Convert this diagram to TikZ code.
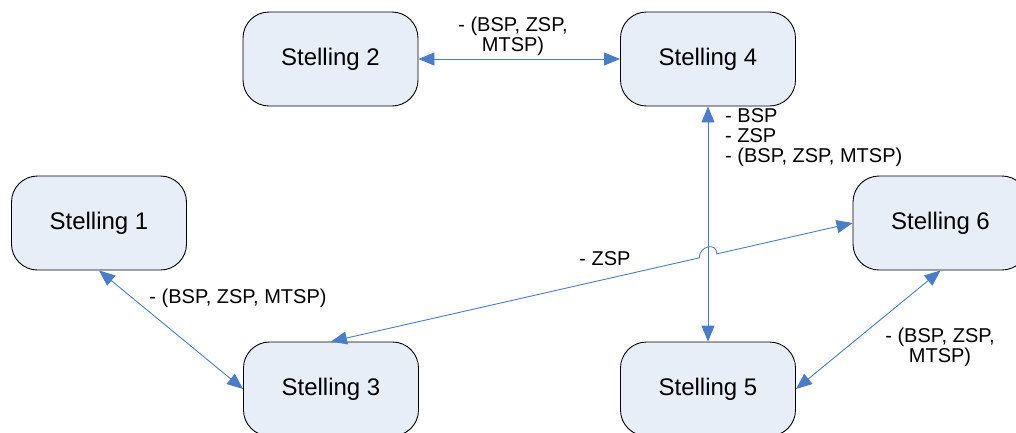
\documentclass[tikz,border=0pt]{standalone}
\usepackage{fontspec}
\setmainfont{Liberation Sans}
\usetikzlibrary{arrows.meta,calc}
\definecolor{boxfill}{HTML}{E8EEF8}
\definecolor{linkblue}{HTML}{4A7DC6}
\begin{document}
\begin{tikzpicture}[x=1pt,y=-1pt,
  stelling/.style={draw=black,line width=0.9pt,fill=boxfill,rounded corners=26pt,
    minimum width=175pt,minimum height=94pt,inner sep=0pt,
    font=\fontsize{24}{28}\selectfont},
  lbl/.style={inner sep=0pt,font=\fontsize{20}{20}\selectfont},
  link/.style={draw=linkblue,line width=0.9pt,
    {Triangle[length=16pt,width=13pt]}-{Triangle[length=16pt,width=13pt]}}]
\useasboundingbox (0,0) rectangle (1016,432);
\node[stelling] (S2) at (330.5,59) {Stelling 2};
\node[stelling] (S4) at (708,59) {Stelling 4};
\node[stelling] (S1) at (99,223) {Stelling 1};
\node[stelling] (S6) at (940.5,223) {Stelling 6};
\node[stelling] (S3) at (331,389) {Stelling 3};
\node[stelling] (S5) at (708,389) {Stelling 5};
% connectors
\draw[link] (S2.east) -- (S4.west);
\draw[link] (S4.south) -- (S5.north);
\draw[link] (S1.south) -- (S3.west);
\draw[link] (S6.south) -- (S5.east);
\coordinate (X) at (intersection of S3.north--S6.west and S4.south--S5.north);
\coordinate (HA) at ($(X)!9pt!(S3.north)$);
\coordinate (HB) at ($(X)!9pt!(S6.west)$);
\draw[link] (S3.north) -- (HA) .. controls ($(HA)+(0,-12)$) and ($(HB)+(0,-12)$) .. (HB) -- (S6.west);
% labels
\node[lbl,align=center] (L24) at (513,36) {- (BSP, ZSP,\\MTSP)};
\node[lbl,align=left,anchor=west] (L45) at (725,138) {- BSP\\- ZSP\\- (BSP, ZSP, MTSP)};
\node[lbl] (L36) at (605,259) {- ZSP};
\node[lbl] (L13) at (238,298) {- (BSP, ZSP, MTSP)};
\node[lbl,align=center] (L65) at (940,347) {- (BSP, ZSP,\\MTSP)};
\end{tikzpicture}
\end{document}
